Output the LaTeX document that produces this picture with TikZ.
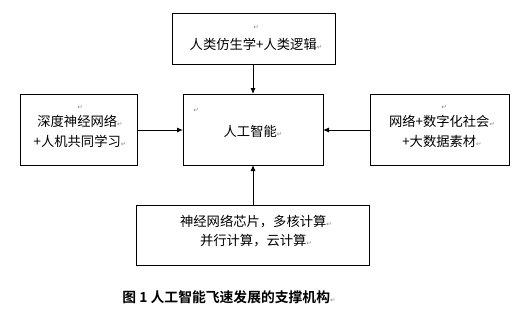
\documentclass[tikz,border=0pt]{standalone}
\usepackage{fontspec}
\setmainfont{Noto Sans CJK SC}
\newfontfamily\cjk{Noto Sans CJK SC}
\newfontfamily\cjkbold{Noto Sans CJK SC Bold}
\newfontfamily\symfont{DejaVu Sans}
\usetikzlibrary{arrows.meta}
\newcommand{\pmark}{{\symfont\fontsize{6.5}{6.5}\selectfont\textcolor{black!45}{↵}}}
\begin{document}
\begin{tikzpicture}[x=1pt,y=-1pt,
  boxstyle/.style={draw=black,line width=0.9pt},
  txt/.style={font=\cjk\fontsize{13.3}{19.5}\selectfont,align=center,inner sep=0pt},
  conn/.style={line width=0.9pt,-{Latex[length=6pt,width=5pt]}}]
\useasboundingbox (0,0) rectangle (513,309);
% boxes
\draw[boxstyle] (172,13) rectangle (335,64);
\draw[boxstyle] (20,94) rectangle (137,165);
\draw[boxstyle] (183,94) rectangle (323,165);
\draw[boxstyle] (370,94) rectangle (509,165);
\draw[boxstyle] (136,205) rectangle (369,265);
% anchor coordinates
\coordinate (topb) at (253,64);
\coordinate (ctop) at (253,94);
\coordinate (leftb) at (137,130);
\coordinate (cleft) at (183,130);
\coordinate (rightb) at (370,130);
\coordinate (cright) at (323,130);
\coordinate (botb) at (253,205);
\coordinate (cbot) at (253,165);
\draw[conn] (topb) -- (ctop);
\draw[conn] (leftb) -- (cleft);
\draw[conn] (rightb) -- (cright);
\draw[conn] (botb) -- (cbot);
% paragraph marks
\node[inner sep=0pt] (pm1) at (256,27) {\pmark};
\node[inner sep=0pt] (pm2) at (80,107) {\pmark};
\node[inner sep=0pt] (pm3) at (196,110) {\pmark};
\node[inner sep=0pt] (pm4) at (444,107) {\pmark};
% texts
\node[txt] (t1) at (256,44) {人类仿生学+人类逻辑\pmark};
\node[txt] (t2) at (80,131.5) {深度神经网络\pmark\\+人机共同学习\pmark};
\node[txt] (t3) at (253,131) {人工智能\pmark};
\node[txt] (t4) at (442,131.5) {网络+数字化社会\pmark\\+大数据素材\pmark};
\node[txt] (t5) at (256,231) {神经网络芯片，多核计算\pmark\\并行计算，云计算\pmark};
\node[inner sep=0pt,font=\cjkbold\fontsize{13.8}{15}\selectfont] (cap) at (229,297) {图 1 人工智能飞速发展的支撑机构\pmark};
\end{tikzpicture}
\end{document}
